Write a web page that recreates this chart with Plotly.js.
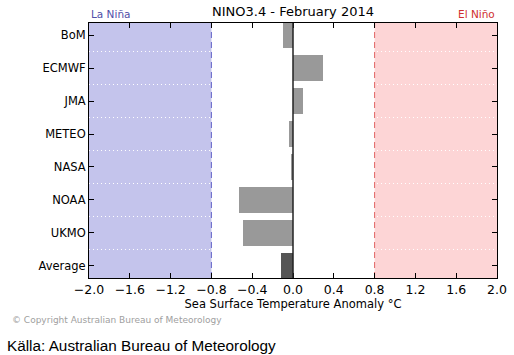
<!DOCTYPE html>
<html><head><meta charset="utf-8">
<script src="https://cdn.plot.ly/plotly-3.0.1.min.js"></script>
<style>body{margin:0;background:#fff}#c{width:514px;height:355px}</style>
</head><body><div id="c"></div>
<script>
const models = ["BoM","ECMWF","JMA","METEO","NASA","NOAA","UKMO","Average"];
const anomalies = [-0.10, 0.29, 0.10, -0.04, -0.02, -0.53, -0.49, -0.113];
const barColors = ["#999999","#999999","#999999","#999999","#999999","#999999","#999999","#555555"];
const xTicks = [-2.0,-1.6,-1.2,-0.8,-0.4,0.0,0.4,0.8,1.2,1.6,2.0];
const xTickText = ["\u22122.0","\u22121.6","\u22121.2","\u22120.8","\u22120.4","0.0","0.4","0.8","1.2","1.6","2.0"];
const laNina = -0.8, elNino = 0.8;

const idx = models.map((_, i) => i);
const font = "DejaVu Sans, sans-serif";

const shapes = [
  {type:"rect", xref:"x", yref:"paper", x0:-2, x1:laNina, y0:0, y1:1, fillcolor:"#c4c4ec", line:{width:0}, layer:"below"},
  {type:"rect", xref:"x", yref:"paper", x0:elNino, x1:2, y0:0, y1:1, fillcolor:"#fdd5d6", line:{width:0}, layer:"below"},
];
for (let i = 0; i < models.length - 1; i++) {
  shapes.push({type:"line", xref:"paper", yref:"y", x0:0, x1:1, y0:i+0.5, y1:i+0.5, line:{color:"#ffffff", width:1, dash:"1px,3px"}, layer:"below"});
}
shapes.push({type:"line", xref:"x", yref:"paper", x0:laNina, x1:laNina, y0:0, y1:1, line:{color:"#6464c8", width:1, dash:"6px,4px"}, layer:"below"});
shapes.push({type:"line", xref:"x", yref:"paper", x0:elNino, x1:elNino, y0:0, y1:1, line:{color:"#e06464", width:1, dash:"6px,4px"}, layer:"below"});
shapes.push({type:"line", xref:"x", yref:"paper", x0:0, x1:0, y0:0, y1:1, line:{color:"#222222", width:1.5}});

const trace = {
  type:"bar", orientation:"h", x:anomalies, y:idx, width:0.8,
  marker:{color:barColors, line:{width:0}}, hoverinfo:"none"
};

const layout = {
  width:514, height:355, margin:{l:89, r:17, t:23, b:77},
  paper_bgcolor:"#ffffff", plot_bgcolor:"#ffffff",
  showlegend:false, bargap:0,
  xaxis:{range:[-2,2], tickvals:xTicks, ticktext:xTickText, ticks:"inside", ticklen:5, tickcolor:"#000",
    showline:true, linecolor:"#000", linewidth:1, mirror:"ticks", showgrid:false, zeroline:false,
    tickfont:{family:font, size:12.5, color:"#000"},
    title:{text:"Sea Surface Temperature Anomaly \u00b0C", font:{family:font, size:11.5, color:"#000"}, standoff:0}},
  yaxis:{range:[7.365,-0.365], tickvals:idx, ticktext:models, ticks:"inside", ticklen:5, tickcolor:"#000",
    showline:true, linecolor:"#000", linewidth:1, mirror:"ticks", showgrid:false, zeroline:false,
    tickfont:{family:font, size:11.5, color:"#000"}},
  shapes:shapes,
  annotations:[
    {text:"NINO3.4 - February 2014", xref:"paper", yref:"paper", x:0.5, y:1, yshift:12, xanchor:"center", yanchor:"middle", showarrow:false, font:{family:font, size:13, color:"#000"}},
    {text:"La Niña", xref:"paper", yref:"paper", x:0, y:1, yshift:1, xanchor:"left", yanchor:"bottom", showarrow:false, font:{family:font, size:10.5, color:"#5050a8"}},
    {text:"El Niño", xref:"paper", yref:"paper", x:1, y:1, yshift:1, xanchor:"right", yanchor:"bottom", showarrow:false, font:{family:font, size:10.5, color:"#d03030"}},
    {text:"© Copyright Australian Bureau of Meteorology", xref:"paper", yref:"paper", x:-89/408, xshift:10, y:0, yshift:-42, xanchor:"left", yanchor:"middle", showarrow:false, font:{family:font, size:9, color:"#a0a0a0"}},
    {text:"Källa: Australian Bureau of Meteorology", xref:"paper", yref:"paper", x:-89/408, xshift:5, y:0, yshift:-67, xanchor:"left", yanchor:"middle", showarrow:false, font:{family:"Liberation Sans, Arial, sans-serif", size:15.3, color:"#000"}}
  ]
};

Plotly.newPlot("c", [trace], layout, {displayModeBar:false, staticPlot:true});
</script></body></html>
